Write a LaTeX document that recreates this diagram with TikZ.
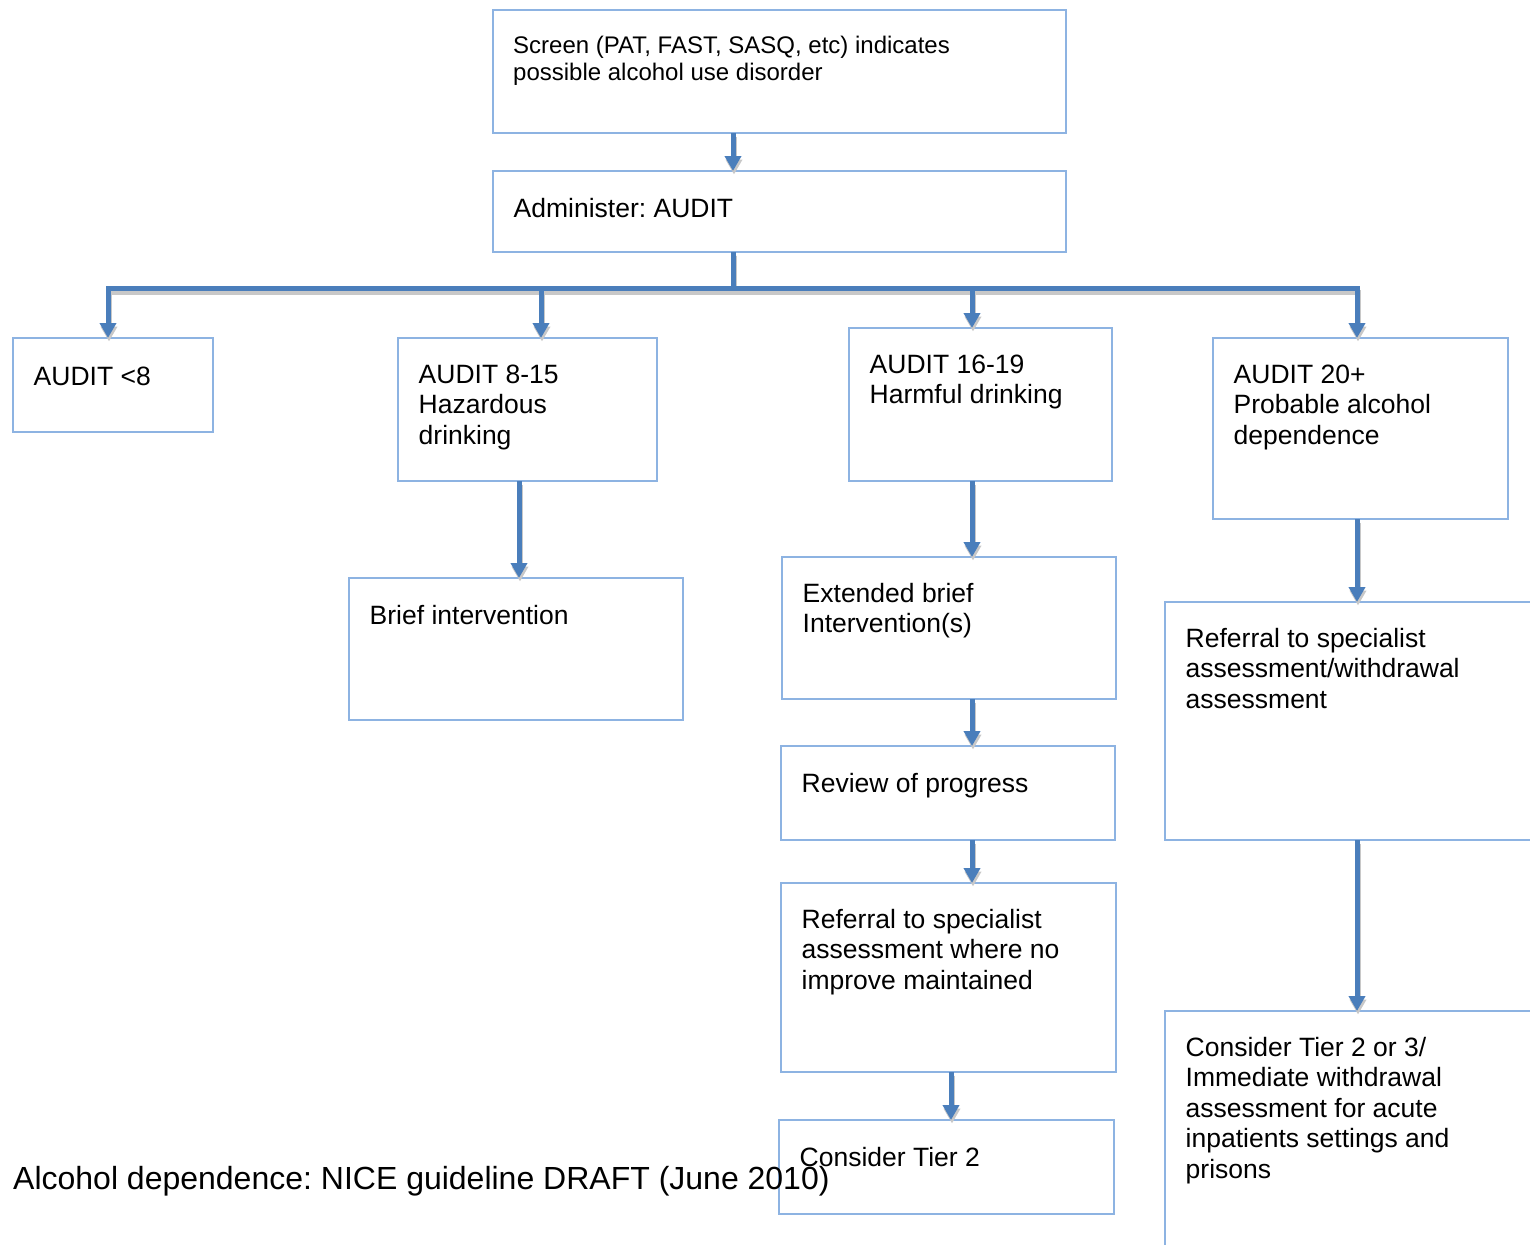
\documentclass[tikz,border=0pt]{standalone}
\usepackage{fontspec}
\setmainfont{Liberation Sans}
\usetikzlibrary{arrows.meta,calc}
\definecolor{arrowblue}{RGB}{74,126,187}
\definecolor{boxblue}{RGB}{141,179,226}
\definecolor{shadowgray}{RGB}{200,200,200}
\frenchspacing
\begin{document}
\begin{tikzpicture}[x=1pt,y=-1pt,
 box/.style={draw=boxblue, line width=1.6pt, inner sep=0pt, outer sep=0pt, anchor=north west},
 txt/.style={inner sep=0pt, anchor=north west, align=left, font=\fontsize{26.5}{30.4}\selectfont, execute at begin node=\strut},
 smalltxt/.style={txt, font=\fontsize{24}{27}\selectfont},
 conn/.style={draw=arrowblue, line width=5pt, -{Triangle[width=16pt,length=15pt]}},
 connshadow/.style={conn, draw=shadowgray, transform canvas={xshift=1pt,yshift=-3.5pt}},
]
\useasboundingbox (0,0) rectangle (1530,1244);
\clip (0,0) rectangle (1530,1244);

% boxes
\node[box, minimum width=573, minimum height=123] (screen) at (493,10) {};
\node[box, minimum width=573, minimum height=81] (admin) at (493,171) {};
\node[box, minimum width=200, minimum height=94] (lt8) at (13,338) {};
\node[box, minimum width=259, minimum height=143] (a815) at (398,338) {};
\node[box, minimum width=263, minimum height=153] (a1619) at (849,328) {};
\node[box, minimum width=295, minimum height=181] (a20) at (1213,338) {};
\node[box, minimum width=334, minimum height=142] (brief) at (349,578) {};
\node[box, minimum width=334, minimum height=142] (ext) at (782,557) {};
\node[box, minimum width=334, minimum height=94] (review) at (781,746) {};
\node[box, minimum width=335, minimum height=189] (refni) at (781,883) {};
\node[box, minimum width=335, minimum height=94] (tier2) at (779,1120) {};
\node[box, minimum width=380, minimum height=238] (refsp) at (1165,602) {};
\node[box, minimum width=380, minimum height=260] (tier23) at (1165,1011) {};

% texts
\node[smalltxt] (screenT) at ($(screen.north west)+(20,25.7)$) {Screen (PAT, FAST, SASQ, etc) indicates\\possible alcohol use disorder};
\node[txt] (adminT) at ($(admin.north west)+(20.5,25)$) {Administer: AUDIT};
\node[txt] (lt8T) at ($(lt8.north west)+(20.5,26)$) {AUDIT {<}8};
\node[txt] (a815T) at ($(a815.north west)+(20.5,26.5)$) {AUDIT 8-15\\Hazardous\\drinking};
\node[txt] (a1619T) at ($(a1619.north west)+(20.5,26.5)$) {AUDIT 16-19\\Harmful drinking};
\node[txt] (a20T) at ($(a20.north west)+(20.5,26.5)$) {AUDIT 20+\\Probable alcohol\\dependence};
\node[txt] (briefT) at ($(brief.north west)+(20.5,25.5)$) {Brief intervention};
\node[txt] (extT) at ($(ext.north west)+(20.5,26)$) {Extended brief\\Intervention(s)};
\node[txt] (reviewT) at ($(review.north west)+(20.5,25)$) {Review of progress};
\node[txt] (refniT) at ($(refni.north west)+(20.5,26)$) {Referral to specialist\\assessment where no\\improve maintained};
\node[txt] (tier2T) at ($(tier2.north west)+(20.5,25)$) {Consider Tier 2};
\node[txt] (refspT) at ($(refsp.north west)+(20.5,26)$) {Referral to specialist\\assessment/withdrawal\\assessment};
\node[txt] (tier23T) at ($(tier23.north west)+(20.5,26)$) {Consider Tier 2 or 3/\\Immediate withdrawal\\assessment for acute\\inpatients settings and\\prisons};

% connector x positions
\coordinate (xa) at (733,0);
\coordinate (xb) at (108,0);
\coordinate (xc) at (541,0);
\coordinate (xd) at (972,0);
\coordinate (xe) at (1357,0);
\coordinate (xf) at (519,0);
\coordinate (xg) at (951,0);
\coordinate (bus) at (0,288.5);

\foreach \s in {connshadow,conn}{
 \draw[\s] (screen.south -| xa) -- (admin.north -| xa);
 \draw[\s] (admin.south -| xa) -- (xa |- bus) -| (lt8.north -| xb);
 \draw[\s] (admin.south -| xa) -- (xa |- bus) -| (a815.north -| xc);
 \draw[\s] (admin.south -| xa) -- (xa |- bus) -| (a1619.north -| xd);
 \draw[\s] (admin.south -| xa) -- (xa |- bus) -| (a20.north -| xe);
 \draw[\s] (a815.south -| xf) -- (brief.north -| xf);
 \draw[\s] (a1619.south -| xd) -- (ext.north -| xd);
 \draw[\s] (ext.south -| xd) -- (review.north -| xd);
 \draw[\s] (review.south -| xd) -- (refni.north -| xd);
 \draw[\s] (refni.south -| xg) -- (tier2.north -| xg);
 \draw[\s] (a20.south -| xe) -- (refsp.north -| xe);
 \draw[\s] (refsp.south -| xe) -- (tier23.north -| xe);
}

\node[anchor=base west, inner sep=0pt, font=\fontsize{32}{38}\selectfont] (footer) at (13,1189.5) {Alcohol dependence: NICE guideline DRAFT (June 2010)};
\end{tikzpicture}
\end{document}
